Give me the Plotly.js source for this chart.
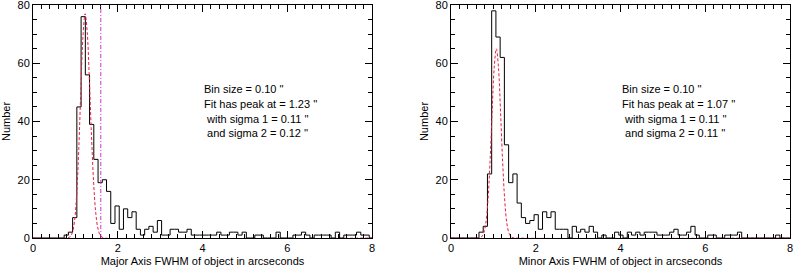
<!DOCTYPE html>
<html>
<head>
<meta charset="utf-8">
<script src="https://cdn.plot.ly/plotly-3.0.1.min.js"></script>
<style>
html,body{margin:0;padding:0;background:#fff;}
#chart{width:794px;height:271px;}
</style>
</head>
<body>
<div id="chart"></div>
<script>
// ---- data ----
const binSize = 0.1;
const majorBinStart = 0.735;
const minorBinStart = 0.66;

const majorCounts = [1, 2, 7, 45, 76, 56, 39, 27, 19, 20, 16, 5, 11, 3, 10, 7, 9, 3, 1, 3,
  4, 2, 6, 1, 1, 3, 3, 2, 2, 3, 1, 1, 1, 1, 1, 1, 2, 1, 1, 2,
  2, 1, 2, 0, 0, 1, 1, 0, 0, 0, 2, 0, 0, 0, 1, 1, 2, 1, 0, 1,
  1, 1, 1, 0, 2, 0, 1, 1, 1, 2, 1, 1, 0];

const minorCounts = [2, 4, 22, 78, 69, 62, 32, 19, 22, 12, 7, 5, 6, 8, 3, 9, 7, 9, 3, 3,
  3, 0, 4, 2, 3, 2, 4, 2, 0, 1, 0, 0, 2, 1, 0, 2, 1, 2, 1, 2,
  2, 2, 1, 1, 1, 2, 3, 1, 1, 2, 4, 1, 0, 0, 1, 1, 0, 0, 1, 1,
  1, 2, 0, 0, 0, 0, 0, 0, 0, 0, 1, 0, 0, 0];

// fitted curves
const majorFitX = [0, 0.83, 0.88, 0.93, 0.98, 1.03, 1.08, 1.13, 1.18, 1.23, 1.28, 1.33, 1.38, 1.43, 1.48, 1.53, 1.58, 1.63, 1.68, 8];
const majorFitY = [0, 0.1, 0.5, 1.9, 5.8, 14.8, 30.4, 51, 69.4, 77, 70.6, 54.4, 35.3, 19.2, 8.8, 3.4, 1.1, 0.3, 0, 0];
const minorFitX = [0, 0.67, 0.72, 0.77, 0.82, 0.87, 0.92, 0.97, 1.02, 1.07, 1.12, 1.17, 1.22, 1.27, 1.32, 1.37, 1.42, 1.47, 1.52, 8];
const minorFitY = [0, 0.1, 0.4, 1.6, 4.9, 12.5, 25.7, 43, 58.6, 65, 58.6, 43, 25.7, 12.5, 4.9, 1.6, 0.4, 0.1, 0, 0];

const majorCut = 1.6;   // vertical dash-dot line in the left panel

const binSizeLabel = ['0.10', '0.10'];
const fitPeaks = ['1.23', '1.07'];
const sigma1 = ['0.11', '0.11'];
const sigma2 = ['0.12', '0.11'];
const xTitles = ['Major Axis FWHM of object in arcseconds', 'Minor Axis FWHM of object in arcseconds'];
const yTitle = 'Number';
const xTickVals = [0, 2, 4, 6, 8];
const xTickText = ['0', '2', '4', '6', '8'];
const yTickVals = [0, 20, 40, 60, 80];
const yTickText = ['0', '20', '40', '60', '80'];

// ---- build step outlines from the bins ----
function stepXY(start, counts) {
  const xs = [0], ys = [0];
  for (let i = 0; i < counts.length; i++) {
    xs.push(+(start + i * binSize).toFixed(4));
    ys.push(counts[i]);
  }
  xs.push(+(start + counts.length * binSize).toFixed(4));
  ys.push(counts[counts.length - 1]);
  return {xs, ys};
}
const mj = stepXY(majorBinStart, majorCounts);
const mn = stepXY(minorBinStart, minorCounts);

const FONT = 'Liberation Sans, Arial, sans-serif';
const RED = 'rgb(232,30,72)';
const MAG = 'rgb(210,50,210)';

const traces = [
  {x: mj.xs, y: mj.ys, xaxis: 'x', yaxis: 'y', type: 'scatter', mode: 'lines',
   line: {shape: 'hv', color: '#000', width: 1}, hoverinfo: 'skip'},
  {x: majorFitX, y: majorFitY, xaxis: 'x', yaxis: 'y', type: 'scatter', mode: 'lines',
   line: {shape: 'spline', color: RED, width: 1, dash: '3px,2px'}, hoverinfo: 'skip'},
  {x: mn.xs, y: mn.ys, xaxis: 'x2', yaxis: 'y2', type: 'scatter', mode: 'lines',
   line: {shape: 'hv', color: '#000', width: 1}, hoverinfo: 'skip'},
  {x: minorFitX, y: minorFitY, xaxis: 'x2', yaxis: 'y2', type: 'scatter', mode: 'lines',
   line: {shape: 'spline', color: RED, width: 1, dash: '3px,2px'}, hoverinfo: 'skip'}
];

function xAxis(domain, title) {
  return {
    domain: domain, range: [0, 8], tickmode: 'array', tickvals: xTickVals, ticktext: xTickText,
    ticks: 'inside', ticklen: 7, tickwidth: 1, tickcolor: '#000',
    minor: {dtick: 0.2, tick0: 0, ticks: 'inside', ticklen: 4, tickcolor: '#000', tickwidth: 1, showgrid: false},
    showline: true, linecolor: '#000', linewidth: 1, mirror: 'allticks',
    showgrid: false, zeroline: false, fixedrange: true, ticklabeloverflow: 'allow',
    tickfont: {family: FONT, size: 11, color: '#000'},
    title: {text: title, font: {family: FONT, size: 11, color: '#000'}, standoff: 4}
  };
}
function yAxis(anchor) {
  return {
    domain: [0.1218, 0.9815], range: [0, 80], anchor: anchor, tickmode: 'array', tickvals: yTickVals, ticktext: yTickText,
    ticks: 'inside', ticklen: 7, tickwidth: 1, tickcolor: '#000',
    minor: {dtick: 5, tick0: 0, ticks: 'inside', ticklen: 4, tickcolor: '#000', tickwidth: 1, showgrid: false},
    showline: true, linecolor: '#000', linewidth: 1, mirror: 'allticks',
    showgrid: false, zeroline: false, fixedrange: true, ticklabeloverflow: 'allow',
    tickfont: {family: FONT, size: 11, color: '#000'},
    title: {text: yTitle, font: {family: FONT, size: 11, color: '#000'}, standoff: 4}
  };
}

const annotations = [];
const textY = [51, 46, 41, 36];
[['x', 'y'], ['x2', 'y2']].forEach((refs, p) => {
  const lines = [
    'Bin size = ' + binSizeLabel[p] + " ''",
    'Fit has peak at = ' + fitPeaks[p] + " ''",
    '\u00a0with sigma 1 = ' + sigma1[p] + " ''",
    '\u00a0and sigma 2 = ' + sigma2[p] + " ''"
  ];
  lines.forEach((t, i) => annotations.push({
    xref: refs[0], yref: refs[1], x: 4.0, y: textY[i], text: t, showarrow: false,
    xanchor: 'left', yanchor: 'middle', align: 'left',
    font: {family: FONT, size: 11, color: '#000'}
  }));
});

const layout = {
  width: 794, height: 271,
  margin: {l: 0, r: 0, t: 0, b: 0, pad: 0},
  paper_bgcolor: '#fff', plot_bgcolor: '#fff',
  showlegend: false,
  xaxis: xAxis([0.04156, 0.46851], xTitles[0]),
  yaxis: yAxis('x'),
  xaxis2: xAxis([0.56801, 0.99496], xTitles[1]),
  yaxis2: yAxis('x2'),
  annotations: annotations,
  shapes: [{type: 'line', xref: 'x', yref: 'y', x0: majorCut, x1: majorCut, y0: 0, y1: 80,
            line: {color: MAG, width: 1, dash: '4px,2px,1px,2px'}}]
};
layout.xaxis.anchor = 'y';
layout.xaxis2.anchor = 'y2';

Plotly.newPlot('chart', traces, layout, {staticPlot: true, displayModeBar: false});
</script>
</body>
</html>
